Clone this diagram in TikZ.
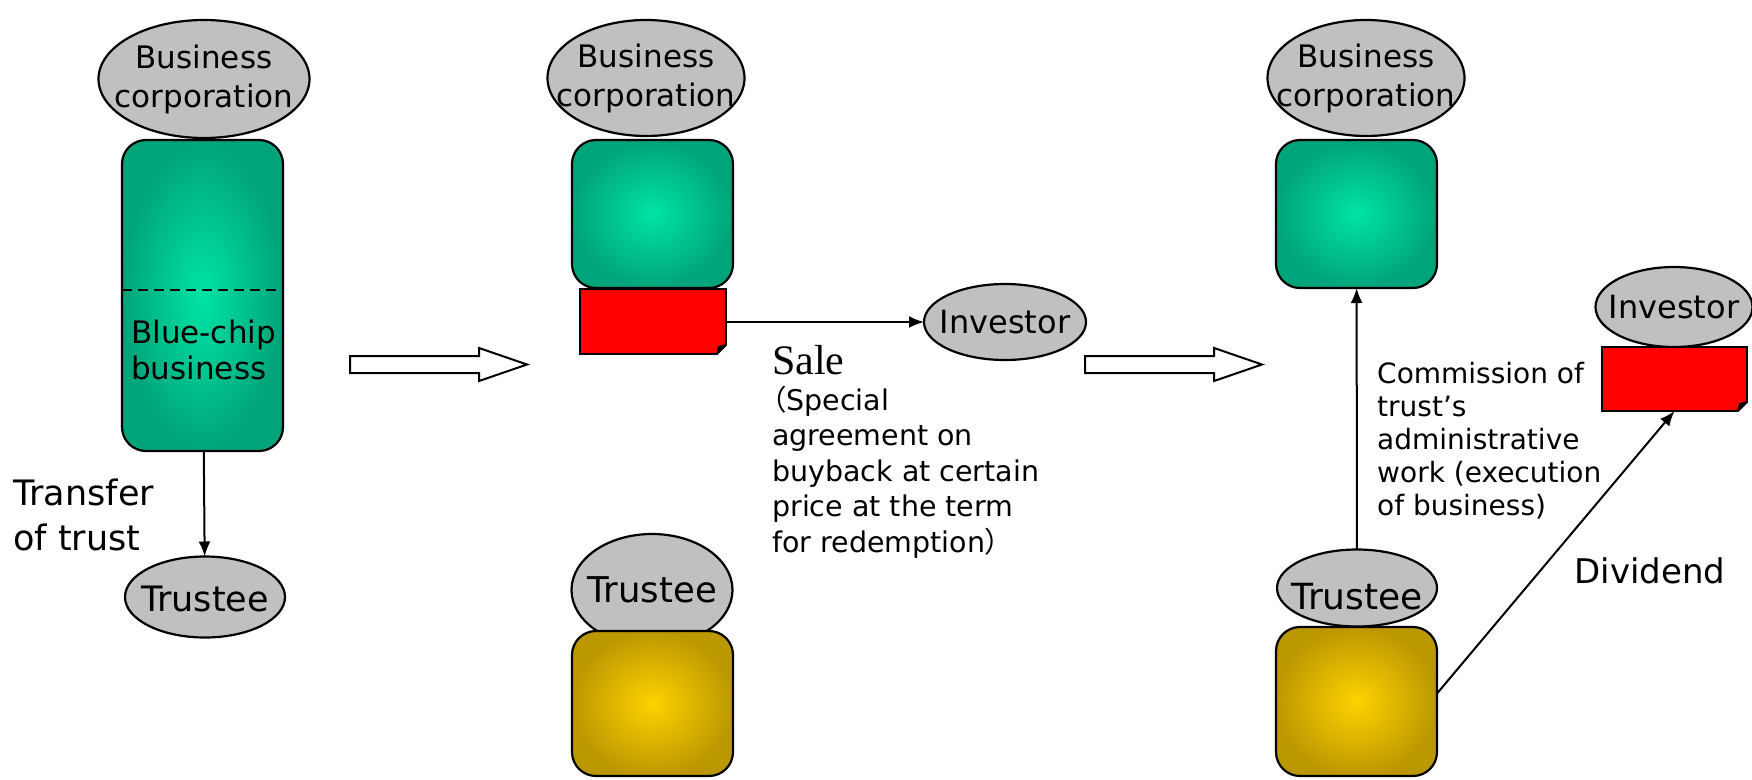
\documentclass[tikz,border=0pt]{standalone}
\usepackage{fontspec}
\setmainfont{DejaVu Sans}
\newfontfamily\salefont{Liberation Serif}
\newfontfamily\cjkfont[RawFeature=+palt]{Noto Sans CJK JP}
\usetikzlibrary{shapes.geometric,shapes.arrows,arrows.meta}
\definecolor{ovalgray}{RGB}{192,192,192}
\definecolor{greenin}{RGB}{0,228,165}
\definecolor{greenout}{RGB}{0,164,122}
\definecolor{goldin}{RGB}{255,210,0}
\definecolor{goldout}{RGB}{188,152,0}
\definecolor{sheetred}{RGB}{255,0,0}
\newcommand{\fs}[2]{\fontsize{#1}{#2}\selectfont}
% folded corner of a red sheet
\newcommand{\dogear}[1]{%
  \fill[white] ([xshift=-9pt]#1.south east) -- ([yshift=9pt]#1.south east)
    -- ([xshift=2pt,yshift=9pt]#1.south east) -- ([xshift=2pt,yshift=-2pt]#1.south east)
    -- ([xshift=-9pt,yshift=-2pt]#1.south east) -- cycle;
  \filldraw[line width=2pt, line join=round] ([xshift=-9pt]#1.south east)
    -- ([yshift=9pt]#1.south east) -- ([xshift=-7pt,yshift=7pt]#1.south east) -- cycle;}

\begin{document}
\begin{tikzpicture}[x=1pt, y=-1pt,
    oval/.style={ellipse, draw, fill=ovalgray, line width=2.2pt, inner sep=0pt, outer sep=0pt},
    gbox/.style={rectangle, rounded corners=24pt, draw, line width=2.2pt, inner color=greenin,
      outer color=greenout, minimum width=161pt, inner sep=0pt, outer sep=0pt},
    ybox/.style={gbox, inner color=goldin, outer color=goldout},
    sheet/.style={rectangle, draw, fill=sheetred, line width=2.2pt, inner sep=0pt, outer sep=0pt},
    lbl/.style={align=left, inner sep=0pt},
    conn/.style={line width=2pt, -{Latex[length=15pt,width=12pt]}},
    hollow/.style={single arrow, draw, fill=white, line width=2pt, inner xsep=0pt, inner ysep=7.5pt,
      minimum height=177pt, minimum width=31pt, single arrow head extend=8pt,
      single arrow tip angle=38, anchor=tail}]
  \useasboundingbox (0,0) rectangle (1752,779);

  % first step: the whole corporation
  \node[oval, minimum width=211pt, minimum height=118pt] (bc1) at (204,79) {};
  \node[lbl, align=center, font=\fs{31}{39}] (bc1t) at (bc1) {Business\\corporation};
  \node[gbox, minimum height=311pt] (gb1) at (202.5,295.5) {};
  \draw[line width=2pt, dash pattern=on 10pt off 6pt] (gb1.west |- 0,290) -- (gb1.east |- 0,290);
  \node[lbl, anchor=west, font=\fs{31}{36}] (chip) at (131,350) {Blue-chip\\business};
  \node[oval, minimum width=160pt, minimum height=81pt] (tr1) at (205,597) {};
  \node[lbl, font=\fs{35}{40}] (tr1t) at (205,599) {Trustee};
  \node[lbl, anchor=west, font=\fs{35}{45}] (transfer) at (13,515) {Transfer\\of trust};
  \draw[conn] (gb1) -- (tr1);

  \node[hollow] (step1) at (349,364.5) {};

  % second step: sale to the investor
  \node[oval, minimum width=197pt, minimum height=116pt] (bc2) at (646,78) {};
  \node[lbl, align=center, font=\fs{31}{39}] (bc2t) at (bc2) {Business\\corporation};
  \node[gbox, minimum height=148pt] (gb2) at (652.5,214) {};
  \node[sheet, minimum width=146pt, minimum height=65pt] (rb2) at (653,321.5) {};
  \dogear{rb2}
  \node[oval, minimum width=162pt, minimum height=76pt] (inv2) at (1005,322) {};
  \node[lbl, font=\fs{32}{38}] (inv2t) at (inv2) {Investor};
  \draw[conn] (rb2.east |- inv2) -- (inv2);
  \node[lbl, anchor=west, font=\salefont\fs{42}{46}] (sale) at (772,360) {Sale};
  \node[lbl, anchor=west, font=\fs{28.5}{35.5}] (special) at (772,472)
    {{\cjkfont （}Special\\agreement on\\buyback at certain\\price at the term\\for redemption{\cjkfont ）}};
  \node[oval, minimum width=161pt, minimum height=112pt] (tr2) at (652,590) {};
  \node[lbl, font=\fs{35.5}{40}] (tr2t) at (tr2) {Trustee};
  \node[ybox, minimum height=145pt] (yb2) at (652.5,703.5) {};

  \node[hollow] (step2) at (1084,364.5) {};

  % third step: trustee runs the business
  \node[oval, minimum width=197pt, minimum height=116pt] (bc3) at (1366,78) {};
  \node[lbl, align=center, font=\fs{31}{39}] (bc3t) at (bc3) {Business\\corporation};
  \node[gbox, minimum height=148pt] (gb3) at (1356.5,214) {};
  \node[oval, minimum width=160pt, minimum height=77pt] (tr3) at (1357,588) {};
  \node[lbl, font=\fs{36}{40}] (tr3t) at (1357,597) {Trustee};
  \node[ybox, minimum height=149pt] (yb3) at (1356.5,701.5) {};
  \node[oval, minimum width=157pt, minimum height=80pt] (inv3) at (1674,307) {};
  \node[lbl, font=\fs{32}{38}] (inv3t) at (inv3) {Investor};
  \node[sheet, minimum width=145pt, minimum height=64pt] (rb3) at (1674.5,379) {};
  \dogear{rb3}
  \draw[conn] (tr3) -- (gb3);
  \node[lbl, anchor=west, font=\fs{28}{33}] (commission) at (1377,441)
    {Commission of\\trust’s\\administrative\\work (execution\\of business)};
  \draw[conn] ([yshift=8pt]yb3.east) -- (rb3.south);
  \node[lbl, font=\fs{34}{40}] (dividend) at (1650,571) {Dividend};
\end{tikzpicture}
\end{document}
